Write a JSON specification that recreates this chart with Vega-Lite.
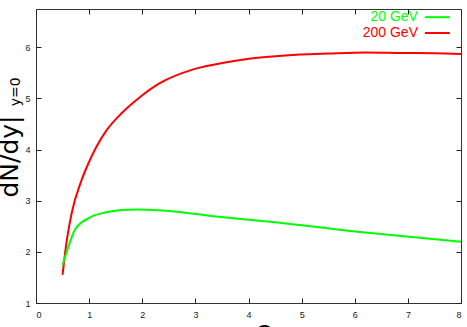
{
  "$schema": "https://vega.github.io/schema/vega-lite/v6.json",
  "width": 425,
  "height": 294,
  "autosize": {"type": "none"},
  "padding": {"left": 36, "top": 9, "right": 6, "bottom": 24},
  "background": "white",
  "config": {
    "view": {"stroke": "#333333", "strokeWidth": 1},
    "font": "Liberation Sans",
    "axis": {
      "domain": false,
      "grid": false,
      "labelFontSize": 9,
      "labelColor": "#222222",
      "labelFont": "Liberation Sans"
    }
  },
  "datasets": {
    "curves": [
      {"series": "200 GeV", "x": 0.5, "y": 1.55},
      {"series": "200 GeV", "x": 0.56, "y": 2.08},
      {"series": "200 GeV", "x": 0.67, "y": 2.75},
      {"series": "200 GeV", "x": 0.86, "y": 3.41},
      {"series": "200 GeV", "x": 0.99, "y": 3.74},
      {"series": "200 GeV", "x": 1.14, "y": 4.06},
      {"series": "200 GeV", "x": 1.33, "y": 4.38},
      {"series": "200 GeV", "x": 1.61, "y": 4.71},
      {"series": "200 GeV", "x": 1.96, "y": 5.03},
      {"series": "200 GeV", "x": 2.33, "y": 5.3},
      {"series": "200 GeV", "x": 2.96, "y": 5.57},
      {"series": "200 GeV", "x": 3.59, "y": 5.71},
      {"series": "200 GeV", "x": 4.22, "y": 5.8},
      {"series": "200 GeV", "x": 4.97, "y": 5.86},
      {"series": "200 GeV", "x": 5.5, "y": 5.88},
      {"series": "200 GeV", "x": 6.2, "y": 5.9},
      {"series": "200 GeV", "x": 6.9, "y": 5.89},
      {"series": "200 GeV", "x": 7.5, "y": 5.885},
      {"series": "200 GeV", "x": 8.0, "y": 5.87},
      {"series": "20 GeV", "x": 0.5, "y": 1.74},
      {"series": "20 GeV", "x": 0.61, "y": 2.1},
      {"series": "20 GeV", "x": 0.73, "y": 2.43},
      {"series": "20 GeV", "x": 0.99, "y": 2.66},
      {"series": "20 GeV", "x": 1.3, "y": 2.77},
      {"series": "20 GeV", "x": 1.61, "y": 2.82},
      {"series": "20 GeV", "x": 1.93, "y": 2.83},
      {"series": "20 GeV", "x": 2.15, "y": 2.82},
      {"series": "20 GeV", "x": 2.5, "y": 2.8},
      {"series": "20 GeV", "x": 3.4, "y": 2.69},
      {"series": "20 GeV", "x": 4.66, "y": 2.56},
      {"series": "20 GeV", "x": 5.91, "y": 2.41},
      {"series": "20 GeV", "x": 7.17, "y": 2.28},
      {"series": "20 GeV", "x": 8.0, "y": 2.2}
    ],
    "one": [{}]
  },
  "resolve": {"axis": {"x": "independent", "y": "independent"}},
  "layer": [
    {
      "data": {"name": "curves"},
      "mark": {"type": "line", "strokeWidth": 2, "interpolate": "monotone"},
      "encoding": {
        "x": {
          "field": "x", "type": "quantitative",
          "scale": {"domain": [0, 8], "nice": false, "zero": false},
          "axis": {
            "orient": "bottom", "values": [0,1,2,3,4,5,6,7,8], "labelPadding": 7,
            "ticks": true, "tickSize": 5, "offset": -5, "tickColor": "#222222", "tickWidth": 1, "zindex": 2,
            "title": "Q", "titleFontSize": 22, "titleFont": "Liberation Sans", "titleFontWeight": "normal",
            "titleX": 228, "titleY": 24, "titleBaseline": "top", "titleAlign": "center", "titleColor": "#000000"
          }
        },
        "y": {
          "field": "y", "type": "quantitative",
          "scale": {"domain": [1, 6.75], "nice": false, "zero": false},
          "axis": {
            "orient": "left", "values": [1,2,3,4,5,6], "labelPadding": 6,
            "ticks": true, "tickSize": 5, "offset": -5, "tickColor": "#222222", "tickWidth": 1, "zindex": 2,
            "title": "dN/dy|", "titleFont": "DejaVu Sans", "titleFontSize": 25, "titleFontWeight": "normal",
            "titleColor": "#000000", "titleAngle": 270, "titleX": -24, "titleY": 147,
            "titleAlign": "center", "titleBaseline": "alphabetic"
          }
        },
        "color": {
          "field": "series", "type": "nominal",
          "scale": {"domain": ["20 GeV", "200 GeV"], "range": ["#00ff00", "#ff0000"]},
          "legend": null
        },
        "detail": {"field": "series"}
      }
    },
    {
      "data": {"name": "one"},
      "mark": {"type": "text", "angle": 270, "align": "center", "baseline": "alphabetic", "font": "DejaVu Sans", "fontSize": 14, "color": "#000000"},
      "encoding": {
        "x": {
          "datum": -0.3, "type": "quantitative",
          "scale": {"domain": [0, 8], "nice": false, "zero": false},
          "axis": {"orient": "top", "values": [0,1,2,3,4,5,6,7,8], "labels": false, "title": null,
                   "ticks": true, "tickSize": 5, "offset": -5, "tickColor": "#222222", "tickWidth": 1, "zindex": 2}
        },
        "y": {
          "datum": 5.13, "type": "quantitative",
          "scale": {"domain": [1, 6.75], "nice": false, "zero": false},
          "axis": {"orient": "right", "values": [1,2,3,4,5,6], "labels": false, "title": null,
                   "ticks": true, "tickSize": 5, "offset": -5, "tickColor": "#222222", "tickWidth": 1, "zindex": 2}
        },
        "text": {"value": "y=0"}
      }
    },
    {
      "data": {"name": "one"},
      "mark": {"type": "text", "align": "right", "baseline": "middle", "font": "Liberation Sans", "fontSize": 14, "color": "#00ff00"},
      "encoding": {
        "x": {"datum": 7.19, "type": "quantitative", "axis": null},
        "y": {"datum": 6.59, "type": "quantitative", "axis": null},
        "text": {"value": "20 GeV"}
      }
    },
    {
      "data": {"name": "one"},
      "mark": {"type": "text", "align": "right", "baseline": "middle", "font": "Liberation Sans", "fontSize": 14, "color": "#ff0000"},
      "encoding": {
        "x": {"datum": 7.19, "type": "quantitative", "axis": null},
        "y": {"datum": 6.28, "type": "quantitative", "axis": null},
        "text": {"value": "200 GeV"}
      }
    },
    {
      "data": {"name": "one"},
      "mark": {"type": "rule", "strokeWidth": 2, "color": "#00ff00"},
      "encoding": {
        "x": {"datum": 7.32, "type": "quantitative", "axis": null},
        "x2": {"datum": 7.79},
        "y": {"datum": 6.59, "type": "quantitative", "axis": null}
      }
    },
    {
      "data": {"name": "one"},
      "mark": {"type": "rule", "strokeWidth": 2, "color": "#ff0000"},
      "encoding": {
        "x": {"datum": 7.32, "type": "quantitative", "axis": null},
        "x2": {"datum": 7.79},
        "y": {"datum": 6.28, "type": "quantitative", "axis": null}
      }
    }
  ]
}
